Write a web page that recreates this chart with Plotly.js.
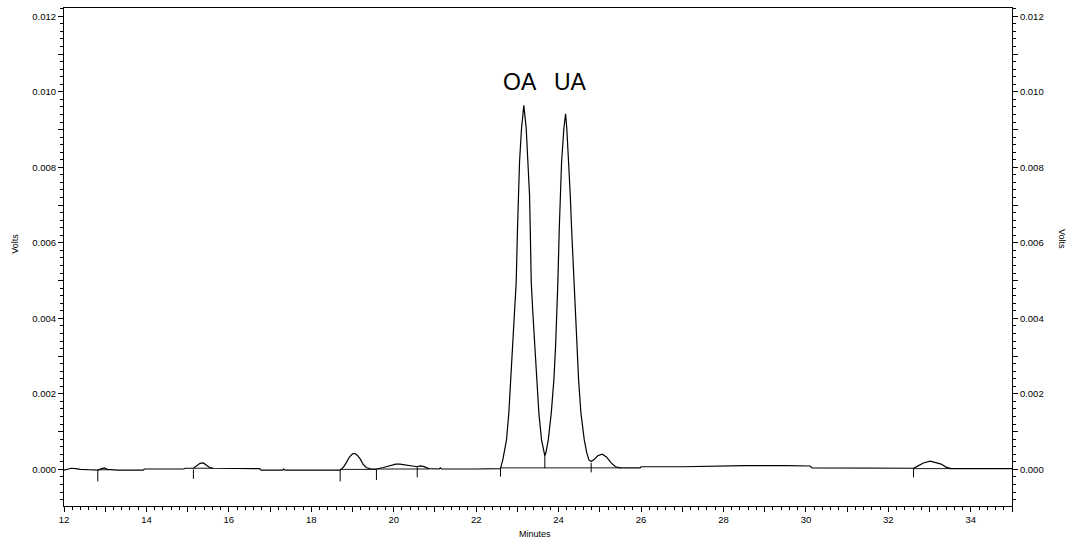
<!DOCTYPE html>
<html>
<head>
<meta charset="utf-8">
<script src="https://cdn.plot.ly/plotly-3.0.1.min.js"></script>
<style>html,body{margin:0;padding:0;background:#fff;}#chart{width:1066px;height:543px;}</style>
</head>
<body>
<div id="chart"></div>
<script>
// Chromatogram signal (minutes, volts)
var minutes = [12.00,12.10,12.18,12.28,12.40,12.60,12.82,12.92,12.98,13.05,13.30,13.92,13.95,14.90,14.95,15.14,15.22,15.30,15.38,15.46,15.55,15.62,16.20,16.75,16.78,17.30,17.33,17.36,18.70,18.78,18.85,18.92,19.00,19.06,19.12,19.19,19.26,19.33,19.45,19.58,19.75,19.90,20.05,20.15,20.30,20.48,20.57,20.64,20.72,20.85,21.10,21.13,21.16,22.00,22.59,22.646,22.736,22.792,22.840,22.889,22.937,22.971,23.003,23.020,23.052,23.100,23.156,23.214,23.263,23.295,23.312,23.336,23.375,23.423,23.472,23.521,23.586,23.630,23.666,23.695,23.749,23.822,23.885,23.926,23.958,23.982,24.016,24.040,24.072,24.128,24.169,24.199,24.249,24.283,24.315,24.371,24.412,24.444,24.485,24.541,24.623,24.680,24.735,24.789,24.86,24.95,25.06,25.16,25.27,25.38,25.50,25.98,26.00,27.00,27.60,28.50,29.50,30.10,30.15,31.00,32.00,32.61,32.70,32.85,33.02,33.15,33.28,33.40,33.52,34.20,35.00];
var volts = [-0.00002,0.00000,0.00003,0.00002,0.00000,-0.00001,-0.00002,0.00002,0.00004,0.00000,-0.00002,-0.00002,0.00001,0.00001,0.00003,0.00003,0.00010,0.00016,0.00017,0.00010,0.00004,0.00003,0.00002,0.00002,-0.00002,-0.00002,0.00001,-0.00002,-0.00002,0.00006,0.00018,0.00032,0.00041,0.00042,0.00037,0.00027,0.00013,0.00005,0.00001,0.00001,0.00005,0.00010,0.00014,0.00014,0.00011,0.00009,0.00007,0.00009,0.00008,0.00002,0.00001,0.00004,0.00001,0.00001,0.00002,0.00025,0.00078,0.00149,0.00237,0.00325,0.00414,0.00496,0.00638,0.00726,0.00814,0.00903,0.00964,0.00903,0.00814,0.00726,0.00638,0.00496,0.00414,0.00325,0.00237,0.00149,0.00078,0.00048,0.00036,0.00046,0.00078,0.00149,0.00237,0.00325,0.00414,0.00496,0.00638,0.00726,0.00814,0.00903,0.00942,0.00903,0.00814,0.00726,0.00638,0.00496,0.00414,0.00325,0.00237,0.00149,0.00078,0.00045,0.00025,0.00021,0.00026,0.00036,0.00040,0.00033,0.00018,0.00007,0.00004,0.00004,0.00007,0.00007,0.00009,0.00010,0.00010,0.00009,0.00004,0.00003,0.00003,0.00003,0.00008,0.00017,0.00022,0.00019,0.00014,0.00006,0.00002,0.00002,0.00002];

// Integration event markers (minutes) and their vertical extent (volts)
var eventTimes  = [12.82, 15.14, 18.70, 19.58, 20.57, 22.59, 24.79, 32.61];
var eventTop    = [-0.00003, 0.00000, -0.00001, 0.00000, 0.00006, 0.00005, 0.00017, 0.00003];
var eventBottom = [-0.00032, -0.00025, -0.00032, -0.00028, -0.00021, -0.00019, -0.00008, -0.00021];

// Valley drop line between OA and UA
var dropTime = 23.666, dropTop = 0.00036, dropBottom = 0.00003;

// Integration baselines: start, end (minutes) and level (volts)
var baseStart = [12.82, 15.14, 18.70, 19.58, 22.59, 24.79, 32.61];
var baseEnd   = [13.10, 15.62, 19.58, 20.85, 24.79, 25.50, 33.55];
var baseLevel = [-0.00001, 0.00003, 0.00000, 0.00001, 0.00004, 0.00004, 0.00002];

// Peak names and retention times
var peakNames = ["OA", "UA"];
var peakTimes = [23.156, 24.169];
var peakHeights = [0.00964, 0.00942];

// Axis ticks
var xTickVals = [12,13,14,15,16,17,18,19,20,21,22,23,24,25,26,27,28,29,30,31,32,33,34,35];
var xTickText = ["12","","14","","16","","18","","20","","22","","24","","26","","28","","30","","32","","34",""];
var yTickVals = [0,0.001,0.002,0.003,0.004,0.005,0.006,0.007,0.008,0.009,0.010,0.011,0.012];
var yTickText = ["0.000","","0.002","","0.004","","0.006","","0.008","","0.010","","0.012"];

var ex = [], ey = [];
for (var i = 0; i < eventTimes.length; i++) {
  ex.push(eventTimes[i], eventTimes[i], null);
  ey.push(eventTop[i], eventBottom[i], null);
}
ex.push(dropTime, dropTime, null);
ey.push(dropTop, dropBottom, null);

var bx = [], by = [];
for (var j = 0; j < baseStart.length; j++) {
  bx.push(baseStart[j], baseEnd[j], null);
  by.push(baseLevel[j], baseLevel[j], null);
}

var font = "Liberation Sans, Arial, sans-serif";
var yRange = [-0.00097, 0.01222];

var traces = [
  {x: bx, y: by, mode: 'lines', line: {color: '#000', width: 0.9}, hoverinfo: 'skip', showlegend: false},
  {x: ex, y: ey, mode: 'lines', line: {color: '#000', width: 1}, hoverinfo: 'skip', showlegend: false},
  {x: minutes, y: volts, mode: 'lines', line: {color: '#000', width: 1.2}, showlegend: false},
  {x: [minutes[0]], y: [volts[0]], yaxis: 'y2', mode: 'markers', marker: {opacity: 0}, hoverinfo: 'skip', showlegend: false}
];

var annotations = [
  {text: 'Volts', xref: 'paper', yref: 'paper', x: -0.0598, y: 0.527, textangle: -90, showarrow: false, font: {family: font, size: 9, color: '#000'}},
  {text: 'Volts', xref: 'paper', yref: 'paper', x: 1.0607, y: 0.537, textangle: 90, showarrow: false, font: {family: font, size: 9, color: '#000'}},
  {text: 'Minutes', xref: 'paper', yref: 'paper', x: 0.4968, y: -0.071, showarrow: false, font: {family: font, size: 9, color: '#000'}}
];
var labelShift = [-4, 5];
var labelLevel = Math.max.apply(null, peakHeights);
for (var k = 0; k < peakNames.length; k++) {
  annotations.push({text: peakNames[k], x: peakTimes[k], y: labelLevel, xref: 'x', yref: 'y',
    yanchor: 'bottom', yshift: 8, xshift: labelShift[k], showarrow: false,
    font: {family: font, size: 23, color: '#000'}});
}

var yCommon = {
  range: yRange, tickmode: 'array', tickvals: yTickVals, ticktext: yTickText,
  ticks: 'outside', ticklen: 5, tickwidth: 1, tickcolor: '#000',
  minor: {dtick: 0.0002, tick0: 0, ticks: 'outside', ticklen: 3, tickwidth: 1, tickcolor: '#000'},
  showline: true, linecolor: '#000', linewidth: 1, showgrid: false, zeroline: false,
  tickfont: {family: font, size: 9.5, color: '#000'}
};

var layout = {
  width: 1066, height: 543,
  margin: {l: 64, r: 54, t: 8, b: 37, pad: 0},
  paper_bgcolor: '#fff', plot_bgcolor: '#fff',
  xaxis: {
    range: [12, 35], tickmode: 'array', tickvals: xTickVals, ticktext: xTickText,
    ticks: 'outside', ticklen: 5, tickwidth: 1, tickcolor: '#000',
    minor: {dtick: 0.2, tick0: 12, ticks: 'outside', ticklen: 3, tickwidth: 1, tickcolor: '#000'},
    showline: true, mirror: true, linecolor: '#000', linewidth: 1, showgrid: false, zeroline: false,
    tickfont: {family: font, size: 9.5, color: '#000'}
  },
  yaxis: Object.assign({}, yCommon, {side: 'left'}),
  yaxis2: Object.assign({}, yCommon, {side: 'right', overlaying: 'y'}),
  annotations: annotations,
  showlegend: false
};

Plotly.newPlot('chart', traces, layout, {displayModeBar: false, staticPlot: true});
</script>
</body>
</html>
